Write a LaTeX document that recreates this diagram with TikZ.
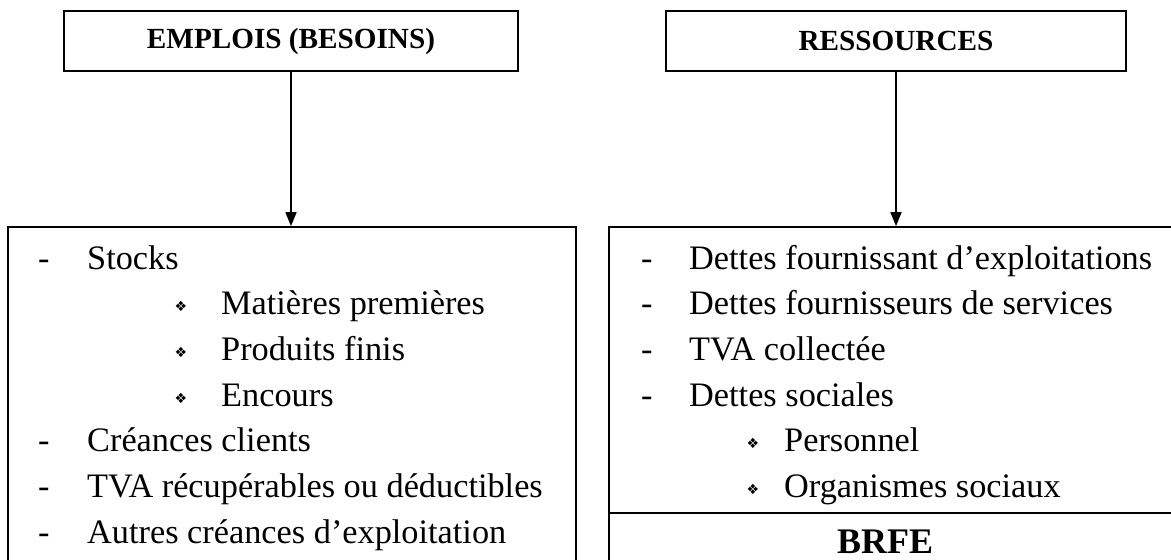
\documentclass[tikz,border=0pt]{standalone}
\usepackage{fontspec}
\setmainfont{Liberation Serif}
\newfontfamily\dejavu{DejaVu Sans}
\usetikzlibrary{arrows.meta}
\tikzset{
  frame/.style={draw, line width=1.7pt, inner sep=0pt},
  title/.style={font=\fontsize{29.2}{35}\selectfont\bfseries},
  item/.style={anchor=base west, inner sep=0pt, font=\fontsize{34.3}{41}\selectfont},
  bul/.style={inner sep=0pt, font=\dejavu\fontsize{14}{16}\selectfont},
  link/.style={line width=1.7pt, -{Triangle[length=14pt,width=11pt]}},
  sep/.style={line width=1.7pt}
}
\begin{document}
\begin{tikzpicture}[x=1pt,y=-1pt]
\useasboundingbox (0,0) rectangle (1171,560);
\clip (0,0) rectangle (1171,560);
% top boxes
\node[frame, minimum width=454pt, minimum height=60pt, title] (empl) at (291,41) {EMPLOIS (BESOINS)};
\node[frame, minimum width=460pt, minimum height=60pt, title] (ress) at (896,41) {RESSOURCES};
% bottom boxes
\node[frame, minimum width=568pt, minimum height=380pt] (bl) at (292,417) {};
\node[frame, minimum width=572pt, minimum height=380pt] (br) at (895,417) {};
\coordinate (dv) at (0,513);
\draw[sep] (br.west |- dv) -- (br.east |- dv);
% arrows
\draw[link] (empl.south) -- (empl.south |- bl.north);
\draw[link] (ress.south) -- (ress.south |- br.north);
% left list
\node[item] (ld1) at (38,269) {-};
\node[item] (l1) at (87,269) {Stocks};
\node[bul] (lb1) at (181,306.7) {❖};
\node[item] (l2) at (221,314.7) {Matières premières};
\node[bul] (lb2) at (181,352.4) {❖};
\node[item] (l3) at (221,360.4) {Produits finis};
\node[bul] (lb3) at (181,398.1) {❖};
\node[item] (l4) at (221,406.1) {Encours};
\node[item] (ld5) at (38,451.8) {-};
\node[item] (l5) at (87,451.8) {Créances clients};
\node[item] (ld6) at (38,497.5) {-};
\node[item] (l6) at (87,497.5) {TVA récupérables ou déductibles};
\node[item] (ld7) at (38,543.2) {-};
\node[item] (l7) at (87,543.2) {Autres créances d’exploitation};
% right list
\node[item] (rd1) at (641,269) {-};
\node[item] (r1) at (689,269) {Dettes fournissant d’exploitations};
\node[item] (rd2) at (641,314.7) {-};
\node[item] (r2) at (689,314.7) {Dettes fournisseurs de services};
\node[item] (rd3) at (641,360.4) {-};
\node[item] (r3) at (689,360.4) {TVA collectée};
\node[item] (rd4) at (641,406.1) {-};
\node[item] (r4) at (689,406.1) {Dettes sociales};
\node[bul] (rb5) at (753,443.8) {❖};
\node[item] (r5) at (784,451.8) {Personnel};
\node[bul] (rb6) at (753,489.5) {❖};
\node[item] (r6) at (784,497.5) {Organismes sociaux};
\node[anchor=base, inner sep=0pt, font=\fontsize{36}{40}\selectfont\bfseries] (brfe) at (885,553) {BRFE};
\end{tikzpicture}
\end{document}
